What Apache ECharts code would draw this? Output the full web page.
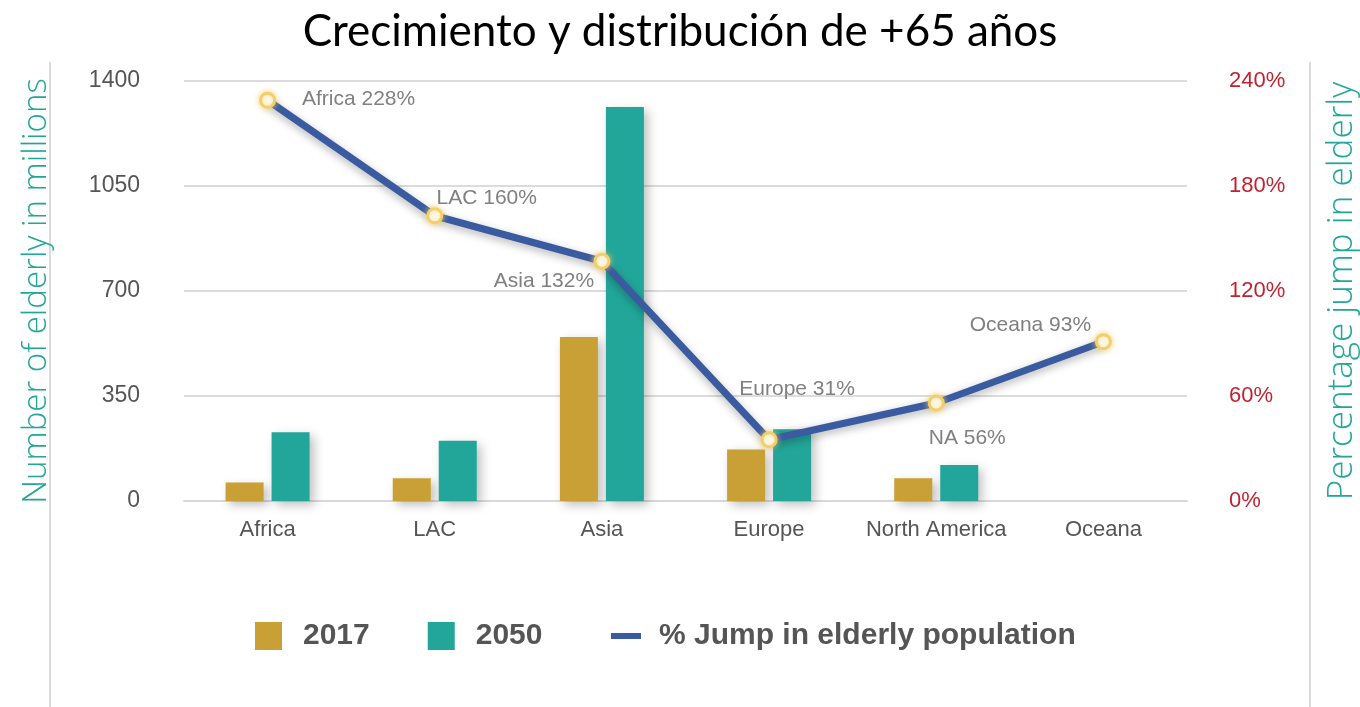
<!DOCTYPE html>
<html>
<head>
<meta charset="utf-8">
<script src="https://cdn.jsdelivr.net/npm/echarts@6/dist/echarts.min.js"></script>
<style>
  html, body { margin: 0; padding: 0; background: #fff; }
  #container { width: 1360px; height: 707px; }
</style>
</head>
<body>
<div id="container"></div>
<script>
var categories = ['Africa', 'LAC', 'Asia', 'Europe', 'North America', 'Oceana'];
var pop2017 = [62, 76, 547, 172, 76, 0];
var pop2050 = [229, 201, 1313, 239, 120, 0];
var jumpPct = [229, 163, 137, 35, 56, 91];
var jumpLabels = ['Africa 228%', 'LAC 160%', 'Asia 132%', 'Europe 31%', 'NA 56%', 'Oceana 93%'];
// where each point label sits relative to its point
var labelOffsets = [[91, -1], [52, -18], [-58, 20], [28, -51], [31, 35], [-73, -17]];

var sans = '"Liberation Sans", Arial, sans-serif';
var thin = '"Open Sans", Lato, sans-serif';
var teal = '#22a699';
var gold = '#c9a035';

var myChart = echarts.init(document.getElementById('container'));

var lineData = jumpPct.map(function (v, i) {
    return {
        value: v,
        label: {
            formatter: jumpLabels[i],
            offset: labelOffsets[i]
        }
    };
});

var barShadow = {
    shadowBlur: 10,
    shadowColor: 'rgba(0,0,0,0.25)',
    shadowOffsetX: 4,
    shadowOffsetY: 4
};

var option = {
    backgroundColor: '#fff',
    title: {
        text: 'Crecimiento y distribución de +65 años',
        left: 'center',
        top: 5,
        textStyle: {
            fontFamily: 'Lato, "Open Sans", sans-serif',
            fontWeight: 'normal',
            fontSize: 44,
            color: '#000'
        }
    },
    graphic: [
        { type: 'line', shape: { x1: 50, y1: 62, x2: 50, y2: 707 }, style: { stroke: '#cfcfcf', lineWidth: 1.5 } },
        { type: 'line', shape: { x1: 1310, y1: 62, x2: 1310, y2: 707 }, style: { stroke: '#cfcfcf', lineWidth: 1.5 } }
    ],
    legend: [
        {
            data: ['2017', '2050'],
            left: 250,
            top: 616,
            icon: 'rect',
            itemWidth: 27,
            itemHeight: 28,
            itemGap: 58,
            textStyle: {
                fontFamily: sans,
                fontWeight: 'bold',
                fontSize: 30,
                color: '#555',
                padding: [0, 0, 0, 16]
            }
        },
        {
            data: ['% Jump in elderly population'],
            left: 606,
            top: 616,
            icon: 'rect',
            itemWidth: 30,
            itemHeight: 6,
            itemStyle: { color: '#3a5ba0', borderWidth: 0 },
            textStyle: {
                fontFamily: sans,
                fontWeight: 'bold',
                fontSize: 30,
                color: '#555',
                padding: [0, 0, 0, 13]
            }
        }
    ],
    grid: {
        left: 184,
        right: 173,
        top: 81,
        bottom: 206,
        outerBoundsMode: 'none'
    },
    xAxis: {
        type: 'category',
        data: categories,
        axisLine: { lineStyle: { color: '#d9d9d9', width: 2 } },
        axisTick: { show: false },
        axisLabel: {
            interval: 0,
            margin: 18,
            fontFamily: sans,
            fontSize: 22,
            color: '#555'
        }
    },
    yAxis: [
        {
            type: 'value',
            min: 0,
            max: 1400,
            interval: 350,
            name: 'Number of elderly in millions',
            nameLocation: 'middle',
            nameRotate: 90,
            nameGap: 131,
            nameTextStyle: {
                fontFamily: thin,
                fontWeight: 300,
                fontSize: 33,
                color: teal
            },
            axisLine: { show: false },
            axisTick: { show: false },
            splitLine: { lineStyle: { color: '#dcdcdc', width: 2 } },
            axisLabel: {
                margin: 44,
                formatter: function (v) { return String(v); },
                fontFamily: sans,
                fontSize: 23,
                color: '#555'
            }
        },
        {
            type: 'value',
            min: 0,
            max: 240,
            interval: 60,
            name: 'Percentage jump in elderly',
            nameLocation: 'middle',
            nameRotate: 90,
            nameGap: 138,
            nameTextStyle: {
                fontFamily: thin,
                fontWeight: 300,
                fontSize: 35,
                color: teal
            },
            axisLine: { show: false },
            axisTick: { show: false },
            splitLine: { show: false },
            axisLabel: {
                margin: 42,
                formatter: '{value}%',
                fontFamily: sans,
                fontSize: 22,
                color: '#c0222f'
            }
        }
    ],
    series: [
        {
            name: '2017',
            type: 'bar',
            data: pop2017,
            barWidth: 38,
            barGap: '21%',
            itemStyle: Object.assign({ color: gold }, barShadow)
        },
        {
            name: '2050',
            type: 'bar',
            data: pop2050,
            barWidth: 38,
            itemStyle: Object.assign({ color: teal }, barShadow)
        },
        {
            name: '% Jump in elderly population',
            type: 'line',
            yAxisIndex: 1,
            data: lineData,
            z: 5,
            symbol: 'circle',
            symbolSize: 14,
            lineStyle: {
                color: '#3a5ba0',
                width: 7,
                shadowBlur: 8,
                shadowColor: 'rgba(0,0,0,0.3)',
                shadowOffsetY: 3
            },
            itemStyle: {
                color: '#fff',
                borderColor: '#f2cf6a',
                borderWidth: 3,
                shadowBlur: 6,
                shadowColor: 'rgba(242,207,106,0.8)'
            },
            label: {
                show: true,
                position: 'inside',
                fontFamily: sans,
                fontSize: 21,
                color: '#808080'
            }
        }
    ]
};

myChart.setOption(option, true);
window.onresize = function () {
    myChart.resize();
};
</script>
</body>
</html>
